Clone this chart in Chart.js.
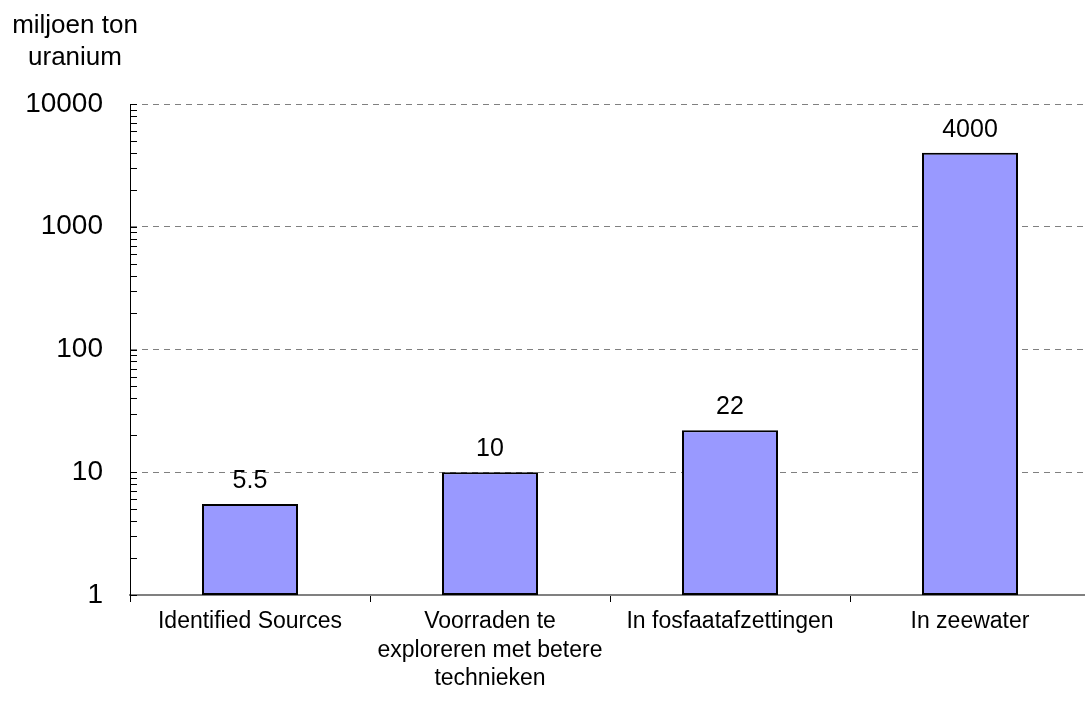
<!DOCTYPE html>
<html>
<head>
<meta charset="utf-8">
<title>Uranium voorraden</title>
<script src="https://cdn.jsdelivr.net/npm/chart.js@4.4.1/dist/chart.umd.min.js"></script>
<style>
    html, body { margin: 0; padding: 0; background: #fff; overflow: hidden; }
    #wrap { position: relative; width: 1100px; height: 702px; }
</style>
</head>
<body>
<div id="wrap"><canvas id="myChart"></canvas></div>
<script>
// DATA
const categories = [
    'Identified Sources',
    ['Voorraden te', 'exploreren met betere', 'technieken'],
    'In fosfaatafzettingen',
    'In zeewater'
];
const values = [5.5, 10, 22, 4000];
const valueLabels = ['5.5', '10', '22', '4000'];
const yTicks = [1, 10, 100, 1000, 10000];
const minorSteps = [2, 3, 4, 5, 6, 7, 8, 9];
const yTitle = ['miljoen ton', 'uranium'];

const FONT = 'Arial, "Liberation Sans", sans-serif';

// axis title top left
const titlePlugin = {
    id: 'titlePlugin',
    afterDraw(chart) {
        const ctx = chart.ctx;
        ctx.save();
        ctx.fillStyle = '#000';
        ctx.font = '26px ' + FONT;
        ctx.textAlign = 'center';
        ctx.textBaseline = 'alphabetic';
        yTitle.forEach((line, i) => ctx.fillText(line, 75, 33 + i * 32));
        ctx.restore();
    }
};

// small ticks on the inside of the log axis
const minorTickPlugin = {
    id: 'minorTicks',
    afterDraw(chart) {
        const y = chart.scales.y;
        const ctx = chart.ctx;
        const x0 = chart.chartArea.left;
        ctx.save();
        ctx.strokeStyle = '#000';
        ctx.lineWidth = 1;
        ctx.beginPath();
        yTicks.forEach(d => {
            const list = d < 10000 ? minorSteps.map(m => d * m) : [];
            list.concat([d]).forEach(v => {
                const py = Math.round(y.getPixelForValue(v)) + 0.5;
                ctx.moveTo(x0, py);
                ctx.lineTo(x0 + 7, py);
            });
        });
        ctx.stroke();
        ctx.restore();
    }
};

// value above each bar
const valueLabelPlugin = {
    id: 'valueLabels',
    afterDatasetsDraw(chart) {
        const ctx = chart.ctx;
        const meta = chart.getDatasetMeta(0);
        ctx.save();
        ctx.fillStyle = '#000';
        ctx.font = '25px ' + FONT;
        ctx.textAlign = 'center';
        ctx.textBaseline = 'alphabetic';
        meta.data.forEach((bar, i) => {
            ctx.fillText(valueLabels[i], bar.x, bar.y - 16);
        });
        ctx.restore();
    }
};

const barConfig = {
    type: 'bar',
    data: {
        labels: categories,
        datasets: [{
            data: values,
            backgroundColor: '#9999FF',
            borderColor: '#000',
            borderWidth: 2,
            borderSkipped: false,
            categoryPercentage: 1,
            barPercentage: 0.4
        }]
    },
    options: {
        responsive: true,
        maintainAspectRatio: false,
        animation: false,
        layout: { padding: { top: 104, right: 10, left: 0, bottom: 0 } },
        plugins: {
            legend: { display: false },
            tooltip: { enabled: false }
        },
        scales: {
            x: {
                grid: {
                    drawOnChartArea: false,
                    drawTicks: true,
                    tickLength: 7,
                    color: '#000'
                },
                border: { display: true, color: '#808080', width: 2 },
                ticks: {
                    color: '#000',
                    font: { family: FONT, size: 23, lineHeight: 1.23 },
                    padding: 6,
                    maxRotation: 0,
                    autoSkip: false
                },
                afterFit(scale) { scale.height = 107; }
            },
            y: {
                type: 'logarithmic',
                min: 1,
                max: 10000,
                afterBuildTicks(scale) {
                    scale.ticks = yTicks.map(v => ({ value: v }));
                },
                grid: {
                    drawTicks: false,
                    color: ctx => (ctx.tick && ctx.tick.value > 1) ? '#808080' : 'rgba(0,0,0,0)',
                    lineWidth: 1
                },
                border: { display: true, color: '#000', width: 1, dash: [6, 5] },
                ticks: {
                    color: '#000',
                    font: { family: FONT, size: 28 },
                    padding: 27,
                    autoSkip: false,
                    callback: v => String(v)
                },
                afterFit(scale) { scale.width = 130; }
            }
        }
    },
    plugins: [titlePlugin, minorTickPlugin, valueLabelPlugin]
};

function initChart() {
    if (typeof Chart === 'undefined') {
        console.error('Chart.js is not loaded');
        return;
    }
    const canvas = document.getElementById('myChart');
    new Chart(canvas.getContext('2d'), barConfig);
}

if (document.readyState === 'loading') {
    document.addEventListener('DOMContentLoaded', initChart);
} else {
    initChart();
}
</script>
</body>
</html>
